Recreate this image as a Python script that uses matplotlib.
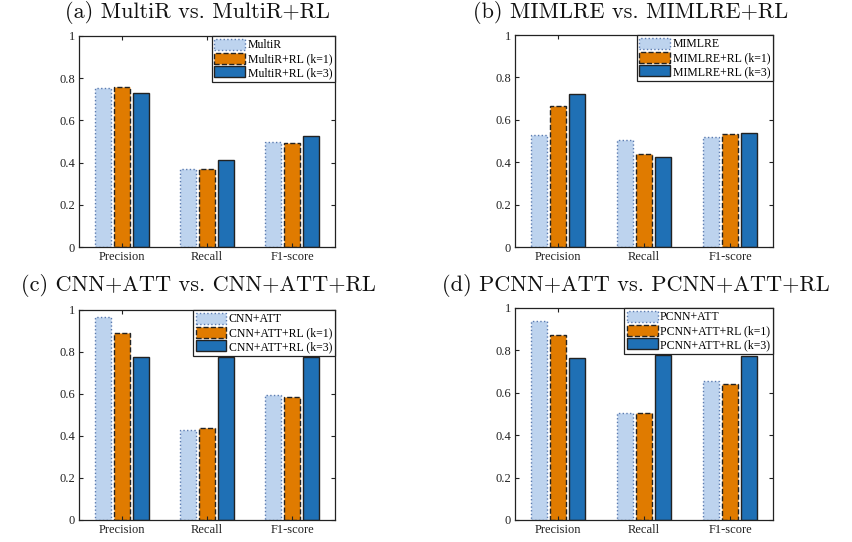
import matplotlib
matplotlib.use("Agg")
import matplotlib.pyplot as plt
import numpy as np

categories = ["Precision", "Recall", "F1-score"]

titles = ["(a) MultiR vs. MultiR+RL",
          "(b) MIMLRE vs. MIMLRE+RL",
          "(c) CNN+ATT vs. CNN+ATT+RL",
          "(d) PCNN+ATT vs. PCNN+ATT+RL"]

legend_names = [
    ["MultiR", "MultiR+RL (k=1)", "MultiR+RL (k=3)"],
    ["MIMLRE", "MIMLRE+RL (k=1)", "MIMLRE+RL (k=3)"],
    ["CNN+ATT", "CNN+ATT+RL (k=1)", "CNN+ATT+RL (k=3)"],
    ["PCNN+ATT", "PCNN+ATT+RL (k=1)", "PCNN+ATT+RL (k=3)"],
]

# values: [base, k=1, k=3] per panel, each over categories
multir_base = [0.755, 0.370, 0.496]
multir_k1 = [0.757, 0.370, 0.493]
multir_k3 = [0.730, 0.411, 0.525]

mimlre_base = [0.528, 0.506, 0.519]
mimlre_k1 = [0.667, 0.440, 0.532]
mimlre_k3 = [0.722, 0.426, 0.536]

cnn_base = [0.968, 0.427, 0.594]
cnn_k1 = [0.889, 0.436, 0.584]
cnn_k3 = [0.775, 0.775, 0.775]

pcnn_base = [0.938, 0.504, 0.655]
pcnn_k1 = [0.873, 0.507, 0.640]
pcnn_k3 = [0.764, 0.780, 0.773]

panels = [
    (multir_base, multir_k1, multir_k3),
    (mimlre_base, mimlre_k1, mimlre_k3),
    (cnn_base, cnn_k1, cnn_k3),
    (pcnn_base, pcnn_k1, pcnn_k3),
]

yticks = [0, 0.2, 0.4, 0.6, 0.8, 1]
ytick_labels = ["0", "0.2", "0.4", "0.6", "0.8", "1"]

fig = plt.figure(figsize=(8.53, 5.42), dpi=100)

positions = [
    (79, 36, 256, 211),
    (515, 35, 258, 212),
    (79, 310, 256, 210),
    (515, 308, 258, 212),
]
title_centers = [(198, 18), (631, 18), (198, 291), (636, 291)]

styles = [
    dict(color="#bdd3ee", edgecolor="#5b7bb0", linestyle=":", linewidth=1.0),
    dict(color="#e07b00", edgecolor="#222222", linestyle="--", linewidth=1.0),
    dict(color="#1f70b5", edgecolor="#222222", linestyle="-", linewidth=1.0),
]

W, H = 853, 542
x = np.arange(1, len(categories) + 1)
offsets = [-0.222, 0.0, 0.222]
bw = 0.188

for i, (vals, pos) in enumerate(zip(panels, positions)):
    l, t, w, h = pos
    ax = fig.add_axes([l / W, (H - t - h) / H, w / W, h / H])
    for j, series in enumerate(vals):
        ax.bar(x + offsets[j], series, width=bw, label=legend_names[i][j], **styles[j])
    ax.set_xlim(0.5, 3.5)
    ax.set_ylim(0, 1)
    ax.set_xticks(x)
    ax.set_xticklabels(categories, family="Liberation Serif", fontsize=9)
    ax.set_yticks(yticks)
    ax.set_yticklabels(ytick_labels, family="Liberation Serif", fontsize=9)
    ax.tick_params(direction="in", length=3, width=0.8, top=True, right=True,
                   colors="#222222", labelcolor="#222222", pad=3)
    for s in ax.spines.values():
        s.set_linewidth(0.9)
        s.set_color("#222222")
    leg = ax.legend(loc="upper right", borderaxespad=0, fancybox=False,
                    framealpha=1, edgecolor="#222222",
                    prop={"family": "Liberation Serif", "size": 8.5},
                    handlelength=2.6, handleheight=1.05, handletextpad=0.2,
                    labelspacing=0.1, borderpad=0.25)
    leg.get_frame().set_linewidth(0.9)
    cx, cy = title_centers[i]
    fig.text(cx / W, 1 - cy / H, titles[i], family="cmr10", fontsize=16,
             ha="center", va="baseline", color="#111111")

fig.savefig("out.png", dpi=100)
